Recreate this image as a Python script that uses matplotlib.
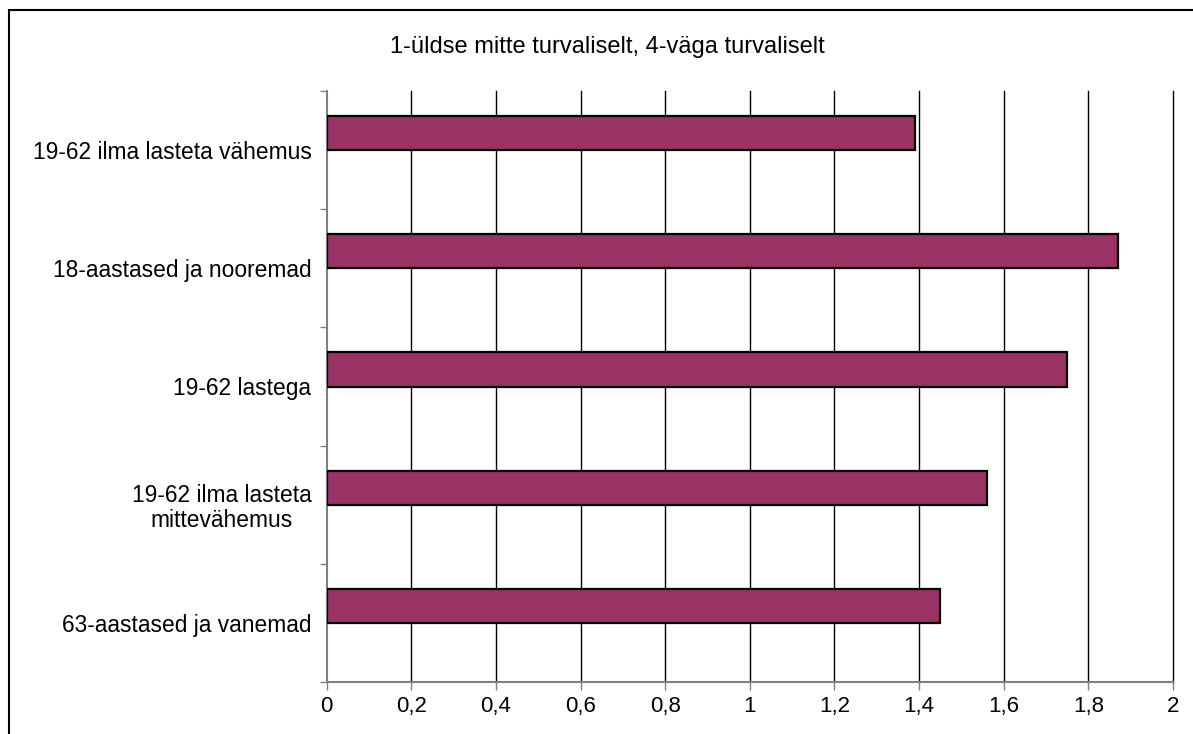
import matplotlib
matplotlib.use("Agg")
import matplotlib.pyplot as plt
from matplotlib.patches import Rectangle
import numpy as np

plt.rcParams['font.family'] = ['Liberation Sans', 'DejaVu Sans']

categories = ["19-62 ilma lasteta vähemus",
              "18-aastased ja nooremad",
              "19-62 lastega",
              "19-62 ilma lasteta\nmittevähemus",
              "63-aastased ja vanemad"]
values = [1.39, 1.87, 1.75, 1.56, 1.45]
xticks = [0, 0.2, 0.4, 0.6, 0.8, 1, 1.2, 1.4, 1.6, 1.8, 2]
xtick_labels = ["0", "0,2", "0,4", "0,6", "0,8", "1", "1,2", "1,4", "1,6", "1,8", "2"]
title = "1-üldse mitte turvaliselt, 4-väga turvaliselt"

W, H = 1193, 734
fig = plt.figure(figsize=(W / 100, H / 100), dpi=100)
fig.patch.set_facecolor('white')

# outer chart border
fig.patches.append(Rectangle((8.5 / W, -0.05), 1.2, 1 - 9.5 / H + 0.05,
                             transform=fig.transFigure, fill=False,
                             edgecolor='black', linewidth=1.5))

left, right, top, bottom = 326.7, 1173, 91, 682
ax = fig.add_axes([left / W, 1 - bottom / H, (right - left) / W, (bottom - top) / H])

pos = np.arange(len(categories))
offset = -0.144
ax.barh(pos + offset, values, height=0.288, color='#993366',
        edgecolor='black', linewidth=1.6, zorder=3)

ax.set_xlim(0, 2)
ax.set_ylim(len(categories) - 0.5, -0.5)

ax.set_xticks(xticks)
ax.set_xticklabels(xtick_labels, fontsize=16)
ax.tick_params(axis='x', direction='out', length=6, width=1, color='#808080', pad=4)

ax.set_yticks(pos)
ax.set_yticklabels(categories, fontsize=16.4, multialignment='center', linespacing=1.1)
ax.tick_params(axis='y', which='major', length=0, pad=11)
ax.set_yticks(np.arange(-0.5, len(categories) + 0.5, 1), minor=True)
ax.tick_params(axis='y', which='minor', direction='out', length=5, width=1, color='#808080')

for x in xticks[1:]:
    ax.axvline(x, color='black', linewidth=1, zorder=1, clip_on=False)

for s in ['top', 'right']:
    ax.spines[s].set_visible(False)
for s in ['left', 'bottom']:
    ax.spines[s].set_color('#808080')
    ax.spines[s].set_linewidth(1.5)

fig.text(607 / W, 1 - 47 / H, title, ha='center', va='center', fontsize=17)

fig.savefig('out.png', dpi=100)
